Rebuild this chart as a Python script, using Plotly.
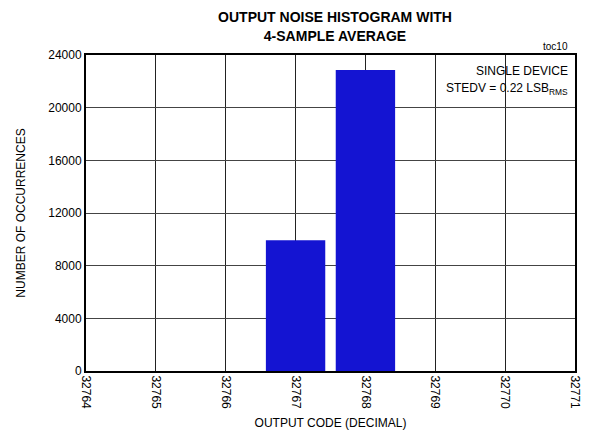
import plotly.graph_objects as go

codes = [32767, 32768]
counts = [9930, 22860]
x_ticks = [32764, 32765, 32766, 32767, 32768, 32769, 32770, 32771]
y_ticks = [0, 4000, 8000, 12000, 16000, 20000, 24000]

FONT = "Liberation Sans Narrow, Arial Narrow, Liberation Sans, Arial, sans-serif"

fig = go.Figure()
fig.add_trace(go.Bar(
    x=codes, y=counts, width=0.85,
    marker=dict(color="#1414d2", line=dict(width=0)),
    hoverinfo="skip",
))

fig.update_layout(
    width=594, height=440,
    margin=dict(l=86, r=12, t=55, b=66),
    paper_bgcolor="white", plot_bgcolor="white",
    showlegend=False,
    font=dict(family=FONT, size=12, color="black"),
    title=dict(
        text="<b>OUTPUT NOISE HISTOGRAM WITH<br>4-SAMPLE AVERAGE</b>",
        x=0.564, xanchor="center", y=0.949, yanchor="top",
        font=dict(family=FONT, size=14, color="black"),
    ),
    xaxis=dict(
        range=[32764, 32771], tickmode="array", tickvals=x_ticks,
        ticktext=[str(v) for v in x_ticks], tickangle=90,
        ticklabeloverflow="allow",
        showgrid=True, gridcolor="#222222", gridwidth=1,
        showline=True, linecolor="black", linewidth=2, mirror=True,
        ticks="", zeroline=False,
        title=dict(text="OUTPUT CODE (DECIMAL)", standoff=11,
                   font=dict(family=FONT, size=12)),
        tickfont=dict(family=FONT, size=12),
    ),
    yaxis=dict(
        range=[0, 24000], tickmode="array", tickvals=y_ticks,
        ticktext=[str(v) for v in y_ticks],
        showgrid=True, gridcolor="#444444", gridwidth=1,
        showline=True, linecolor="black", linewidth=2, mirror=True,
        ticks="", zeroline=False,
        title=dict(text="NUMBER OF OCCURRENCES", standoff=20,
                   font=dict(family=FONT, size=12)),
        tickfont=dict(family=FONT, size=12),
    ),
)

fig.add_shape(type="rect", xref="paper", yref="paper",
              x0=0.70, x1=0.995, y0=0.934, y1=0.978,
              fillcolor="white", line=dict(width=0), layer="below")

fig.add_annotation(text="SINGLE DEVICE", xref="paper", yref="paper",
                   x=0.99, y=0.95, xanchor="right", yanchor="middle",
                   showarrow=False, font=dict(family=FONT, size=12))
fig.add_annotation(text="STEDV = 0.22 LSB<sub>RMS</sub>", xref="paper", yref="paper",
                   x=0.99, y=0.893, xanchor="right", yanchor="middle",
                   showarrow=False, font=dict(family=FONT, size=12))
fig.add_annotation(text="toc10", xref="paper", yref="paper",
                   x=0.99, y=1.028, xanchor="right", yanchor="middle",
                   showarrow=False, font=dict(family=FONT, size=10))

fig.write_html("out.html",
               config={"displayModeBar": False},
               post_script="document.body.style.margin='0';")
